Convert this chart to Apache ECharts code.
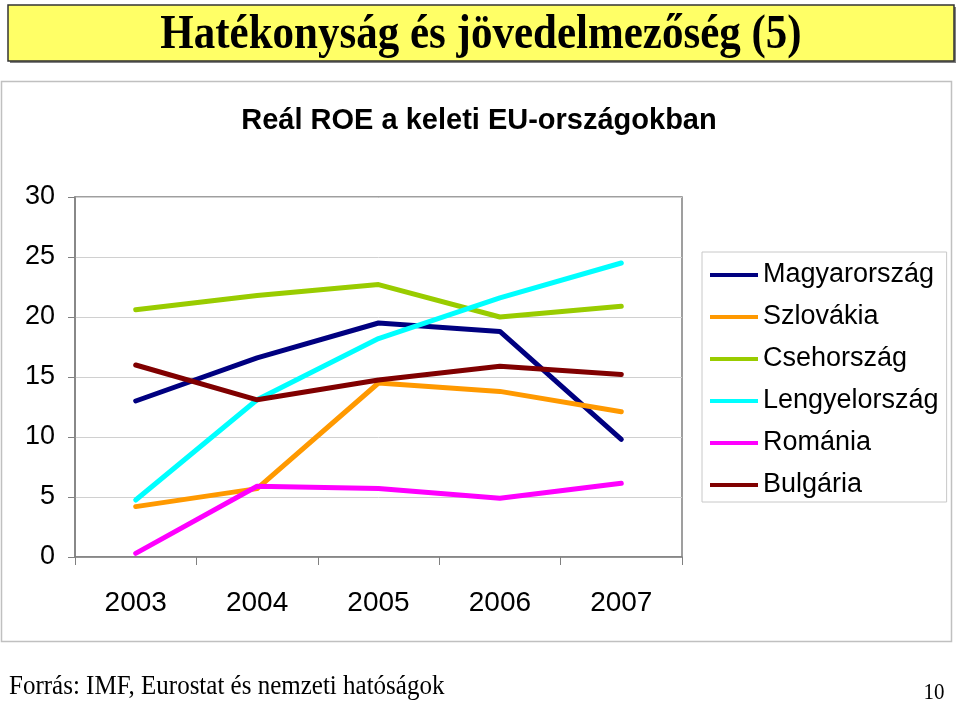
<!DOCTYPE html>
<html>
<head>
<meta charset="utf-8">
<script src="https://cdn.jsdelivr.net/npm/echarts@6/dist/echarts.min.js"></script>
<style>
html,body{margin:0;padding:0;background:#fff;}
#chart{width:960px;height:702px;}
</style>
</head>
<body>
<div id="chart"></div>
<script>
var years = ['2003', '2004', '2005', '2006', '2007'];
var magyarorszag = [13.0, 16.6, 19.5, 18.8, 9.8];
var szlovakia = [4.2, 5.7, 14.5, 13.8, 12.1];
var csehorszag = [20.6, 21.8, 22.7, 20.0, 20.9];
var lengyelorszag = [4.75, 13.1, 18.2, 21.6, 24.5];
var romania = [0.3, 5.9, 5.7, 4.9, 6.15];
var bulgaria = [16.0, 13.1, 14.75, 15.9, 15.2];
var seriesNames = ['Magyarország', 'Szlovákia', 'Csehország', 'Lengyelország', 'Románia', 'Bulgária'];
var seriesColors = ['#000080', '#FF9900', '#99CC00', '#00FFFF', '#FF00FF', '#800000'];
var seriesData = [magyarorszag, szlovakia, csehorszag, lengyelorszag, romania, bulgaria];

var chart = echarts.init(document.getElementById('chart'));
var series = seriesNames.map(function (n, i) {
  return {
    name: n,
    type: 'line',
    data: seriesData[i],
    symbol: 'none',
    color: seriesColors[i],
    lineStyle: { width: 5, color: seriesColors[i], cap: 'round', join: 'round' },
    animation: false
  };
});

chart.setOption({
  animation: false,
  graphic: [
    { type: 'rect', z: -1, shape: { x: 1.5, y: 81.5, width: 950, height: 560 }, style: { fill: '#fff', stroke: '#c0c0c0', lineWidth: 1.5 } },
    { type: 'rect', shape: { x: 10, y: 7, width: 946, height: 56 }, style: { fill: '#808080' } },
    { type: 'rect', shape: { x: 8, y: 5, width: 946, height: 56 }, style: { fill: '#FFFF66', stroke: '#333', lineWidth: 1.5 } },
    { type: 'text', x: 481, y: 36, scaleY: 1.12, style: { text: 'Hatékonyság és jövedelmezőség (5)', fontFamily: 'Liberation Serif', fontWeight: 'bold', fontSize: 43, fill: '#000', textAlign: 'center', textVerticalAlign: 'middle' } },
    { type: 'text', x: 9, y: 687, scaleY: 1.1, style: { text: 'Forrás: IMF, Eurostat és nemzeti hatóságok', fontFamily: 'Liberation Serif', fontSize: 25, fill: '#000', textAlign: 'left', textVerticalAlign: 'middle' } },
    { type: 'text', x: 934, y: 693, scaleY: 1.1, style: { text: '10', fontFamily: 'Liberation Serif', fontSize: 21, fill: '#000', textAlign: 'center', textVerticalAlign: 'middle' } }
  ],
  title: {
    text: 'Reál ROE a keleti EU-országokban',
    left: 474, top: 101, textAlign: 'center',
    textStyle: { fontFamily: 'Liberation Sans', fontWeight: 'bold', fontSize: 29, color: '#000' }
  },
  legend: {
    orient: 'vertical',
    left: 702, top: 252,
    width: 244,
    padding: [8, 8, 2, 8],
    borderColor: '#c8c8c8', borderWidth: 1,
    itemWidth: 48, itemHeight: 14,
    itemGap: 12,
    data: seriesNames.map(function (n, i) { return { name: n, icon: 'path://M0,5 L48,5 L48,9 L0,9 Z', itemStyle: { color: seriesColors[i] } }; }),
    textStyle: { fontFamily: 'Liberation Sans', fontSize: 27, color: '#000', lineHeight: 30, padding: [0, 0, 0, 0] }
  },
  grid: {
    left: 75, top: 197, right: 278, bottom: 145,
    show: true, borderColor: '#808080', borderWidth: 1.5, backgroundColor: 'transparent'
  },
  xAxis: {
    type: 'category',
    data: years,
    boundaryGap: true,
    axisLine: { lineStyle: { color: '#808080', width: 1.5 } },
    axisTick: { show: true, length: 8, lineStyle: { color: '#808080' } },
    axisLabel: { margin: 32, fontFamily: 'Liberation Sans', fontSize: 28, color: '#000' },
    splitLine: { show: false }
  },
  yAxis: {
    type: 'value',
    min: 0, max: 30, interval: 5,
    axisLine: { show: true, lineStyle: { color: '#808080', width: 1.5 } },
    axisTick: { show: true, length: 7, lineStyle: { color: '#808080' } },
    axisLabel: { margin: 20, fontFamily: 'Liberation Sans', fontSize: 27, color: '#000' },
    splitLine: { show: true, lineStyle: { color: '#d0d0d0', width: 1 } }
  },
  series: series
});
</script>
</body>
</html>
